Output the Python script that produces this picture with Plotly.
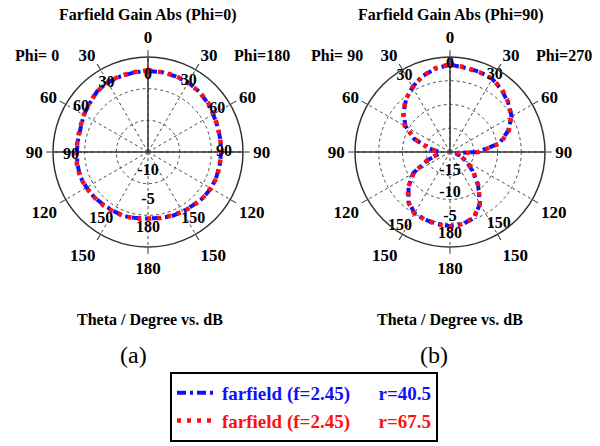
import plotly.graph_objects as go

W, H = 600, 446
FONT = "'Liberation Serif', 'Times New Roman', Times, serif"

# ---------------- data (angle measured clockwise from top, degrees) ----------------
angles = [a for a in range(0, 360, 10)]

# (a) Phi=0 / Phi=180 cut, gain in dB
gain_a_r405 = [-2.2, -2.2, -2.3, -2.3, -2.5, -2.8, -3.1, -3.3, -3.4, -3.45,
               -3.5, -3.5, -3.5, -3.7, -4.0, -4.1, -4.2, -4.4, -4.5, -4.4,
               -4.2, -4.2, -4.1, -3.9, -3.8, -3.6, -3.7, -3.75, -3.8, -3.7,
               -3.3, -3.0, -2.5, -2.3, -2.3, -2.25]
gain_a_r675 = [-2.1, -2.2, -2.2, -2.4, -2.5, -2.7, -3.0, -3.3, -3.4, -3.4,
               -3.5, -3.4, -3.6, -3.7, -3.9, -4.1, -4.3, -4.4, -4.5, -4.3,
               -4.2, -4.1, -4.0, -3.9, -3.7, -3.6, -3.6, -3.7, -3.7, -3.6,
               -3.3, -2.9, -2.5, -2.3, -2.2, -2.2]

# (b) Phi=90 / Phi=270 cut, gain in dB
gain_b_r405 = [-1.6, -2.0, -2.0, -2.2, -3.0, -4.0, -5.0, -7.0, -9.4, -14.2,
               -18.8, -17.6, -16.0, -13.8, -10.8, -7.4, -5.2, -4.6, -4.4, -4.6,
               -4.8, -5.1, -6.4, -8.6, -11.0, -15.0, -17.6, -17.8, -15.6, -12.0,
               -9.2, -7.2, -5.6, -4.2, -3.0, -2.2]
gain_b_r675 = [-1.5, -1.9, -2.1, -2.2, -2.9, -3.9, -5.1, -6.8, -9.2, -14.0,
               -18.6, -17.8, -15.8, -13.6, -10.6, -7.5, -5.3, -4.6, -4.3, -4.5,
               -4.8, -5.0, -6.3, -8.5, -11.2, -14.8, -17.4, -17.6, -15.4, -12.2,
               -9.0, -7.1, -5.5, -4.3, -3.0, -2.1]

angle_ticks = [0, 30, 60, 90, 120, 150, 180, 210, 240, 270, 300, 330]
angle_labels = ["0", "30", "60", "90", "120", "150", "180", "150", "120", "90", "60", "30"]

range_a = [-15, 0]
range_b = [-20, 0]
rings_a = [-10, -5]
rings_b = [-15, -10, -5]

series_names = ["farfield (f=2.45)", "farfield (f=2.45)"]
series_r = ["r=40.5", "r=67.5"]

# overlay labels inside the plots (text, angle, fraction of radius)
inner_a_text = ["0", "30", "60", "90", "30", "60", "90", "150", "150", "180", "-10", "-5"]
inner_a_theta = [0, 329, 304, 268, 30, 58, 90, 215, 146, 180, 180, 180]
inner_a_frac = [0.81, 0.85, 0.85, 0.81, 0.86, 0.86, 0.80, 0.86, 0.85, 0.80, 0.20, 0.51]

inner_b_text = ["0", "30", "30", "180", "150", "150", "-15", "-10", "-5"]
inner_b_theta = [0, 329, 30, 180, 214, 146, 180, 180, 180]
inner_b_frac = [0.93, 0.93, 0.94, 0.86, 0.94, 0.92, 0.20, 0.43, 0.68]

# ---------------- layout helpers ----------------
def px(x, y):
    return x / W, 1 - y / H

R = 95
CA = (148, 152)
CB = (450, 152)

def domain(c):
    return dict(x=[(c[0] - R) / W, (c[0] + R) / W],
                y=[1 - (c[1] + R) / H, 1 - (c[1] - R) / H])

BLUE = "#1010ff"
RED = "#ff1010"
GRID = "#4a4a4a"

fig = go.Figure()

def add_panel(sub, rng, g1, g2, itext, itheta, ifrac, showleg):
    lo, hi = rng
    # solid axis cross
    fig.add_trace(go.Scatterpolar(r=[hi, lo, hi], theta=[90, 0, 270], mode="lines",
                                  line=dict(color="#333", width=1.5), subplot=sub,
                                  showlegend=False, hoverinfo="skip"))
    fig.add_trace(go.Scatterpolar(r=[lo, hi], theta=[0, 0], mode="lines",
                                  line=dict(color="#333", width=1.5), subplot=sub,
                                  showlegend=False, hoverinfo="skip"))
    fig.add_trace(go.Scatterpolar(
        r=g1 + [g1[0]], theta=angles + [360], mode="lines", subplot=sub,
        line=dict(color=BLUE, width=4, dash="9px,4px,3px,4px"),
        name=f'<span style="color:{BLUE}">{series_names[0]}&#160;&#160;&#160;&#160;&#160;&#160;{series_r[0]}</span>',
        showlegend=showleg))
    fig.add_trace(go.Scatterpolar(
        r=g2 + [g2[0]], theta=angles + [360], mode="lines", subplot=sub,
        line=dict(color=RED, width=4.5, dash="4px,6px"),
        name=f'<span style="color:{RED}">{series_names[1]}&#160;&#160;&#160;&#160;&#160;&#160;{series_r[1]}</span>',
        showlegend=showleg))
    fig.add_trace(go.Scatterpolar(
        r=[lo + f * (hi - lo) for f in ifrac], theta=itheta, text=itext, mode="text",
        textfont=dict(family=FONT, size=16, color="black", weight="bold"),
        subplot=sub, showlegend=False, hoverinfo="skip"))

add_panel("polar", range_a, gain_a_r405, gain_a_r675, inner_a_text, inner_a_theta, inner_a_frac, True)
add_panel("polar2", range_b, gain_b_r405, gain_b_r675, inner_b_text, inner_b_theta, inner_b_frac, False)

def polar_layout(c, rng, rings):
    return dict(
        domain=domain(c),
        bgcolor="white",
        angularaxis=dict(rotation=90, direction="clockwise", tickmode="array",
                         tickvals=angle_ticks, ticktext=angle_labels,
                         showline=True, linecolor="#333", linewidth=1.5,
                         ticks="outside", ticklen=6, tickcolor="#333",
                         showgrid=True, gridcolor=GRID, gridwidth=1, griddash="3px,3px",
                         tickfont=dict(family=FONT, size=17, color="black", weight="bold")),
        radialaxis=dict(range=rng, tickmode="array", tickvals=rings, showticklabels=False,
                        ticks="", showline=False, showgrid=True, gridcolor=GRID,
                        gridwidth=1, griddash="3px,3px"),
    )

annotations = []
def text(x, y, s, size=16, bold=True, color="black"):
    ax, ay = px(x, y)
    annotations.append(dict(x=ax, y=ay, xref="paper", yref="paper", text=s, showarrow=False,
                            xanchor="center", yanchor="middle",
                            font=dict(family=FONT, size=size, color=color,
                                      weight="bold" if bold else "normal")))

text(148, 15, "Farfield Gain Abs (Phi=0)")
text(451, 15, "Farfield Gain Abs (Phi=90)")
text(37, 55, "Phi=&#160;0")
text(262, 55, "Phi=180")
text(337, 55, "Phi=&#160;90")
text(564, 55, "Phi=270")
text(150, 320, "Theta / Degree vs. dB")
text(450, 320, "Theta / Degree vs. dB")
text(133, 355, "(a)", size=24, bold=False)
text(434, 355, "(b)", size=24, bold=False)

lx, ly = px(304, 442)
fig.update_layout(
    width=W, height=H,
    margin=dict(l=0, r=0, t=0, b=0),
    paper_bgcolor="white", plot_bgcolor="white",
    polar=polar_layout(CA, range_a, rings_a),
    polar2=polar_layout(CB, range_b, rings_b),
    annotations=annotations,
    showlegend=True,
    legend=dict(x=lx, y=ly, xanchor="center", yanchor="bottom",
                bordercolor="black", borderwidth=2, bgcolor="white",
                font=dict(family=FONT, size=19, weight="bold"),
                itemwidth=40, tracegroupgap=0),
)

fig.write_html("out.html")
